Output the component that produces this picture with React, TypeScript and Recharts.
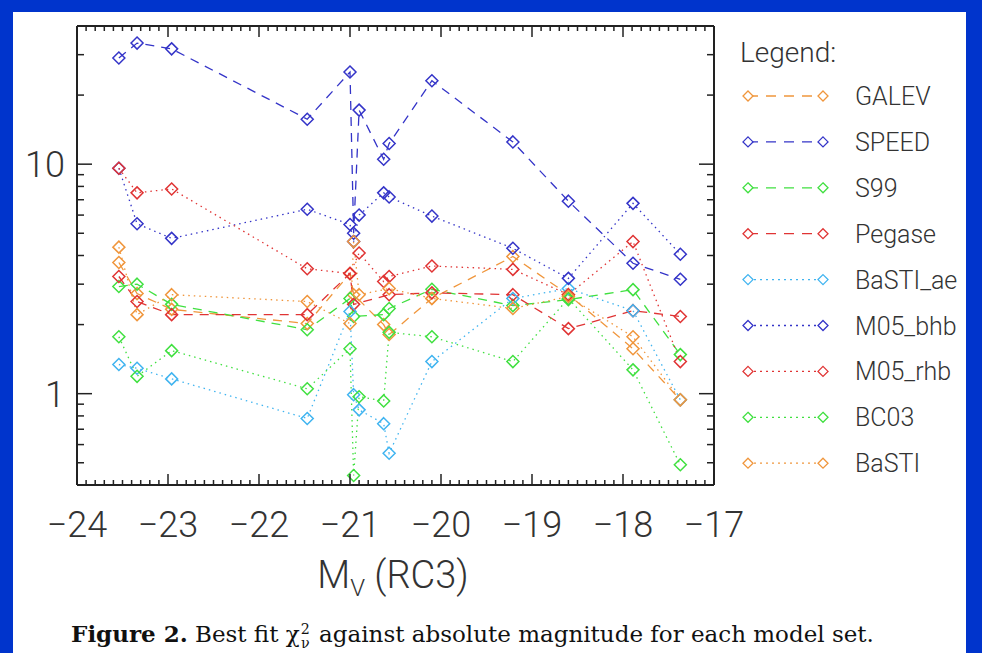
import { LineChart, Line, XAxis, YAxis } from "recharts";

// absolute V magnitude of each galaxy (RC3)
const MAGS = [-23.54, -23.34, -22.96, -21.47, -21.0, -20.96, -20.9, -20.63, -20.57, -20.1, -19.21, -18.6, -17.89, -17.37];

// best fit reduced chi^2 per model set (null = no point)
const GALEV = [3.73, 2.73, 2.33, 2.02, 3.34, 2.7, null, 2.0, 1.81, 2.6, 3.96, 2.7, 1.57, 0.94];
const SPEED = [29.0, 33.7, 31.8, 15.7, 25.2, 5.0, 17.2, 10.5, 12.3, 23.1, 12.5, 6.9, 3.7, 3.15];
const S99 = [2.93, 3.0, 2.45, 1.9, 2.6, 2.17, null, 2.21, 2.35, 2.85, 2.42, 2.57, 2.84, 1.48];
const PEGASE = [3.24, 2.52, 2.21, 2.21, 3.34, 2.45, null, null, 2.7, 2.75, 2.7, 1.92, 2.3, 2.17];
const BASTI_AE = [1.34, 1.29, 1.16, 0.78, 2.28, 0.99, 0.85, 0.74, 0.55, 1.38, 2.6, 2.87, 2.3, 0.94];
const M05_BHB = [9.6, 5.5, 4.75, 6.36, 5.46, 4.6, 6.0, 7.5, 7.2, 5.94, 4.3, 3.18, 6.75, 4.05];
const M05_RHB = [9.6, 7.5, 7.8, 3.5, 3.34, null, 4.1, 3.08, 3.24, 3.6, 3.48, 2.7, 4.6, 1.38];
const BC03 = [1.77, 1.19, 1.54, 1.05, 1.57, 0.44, 0.97, 0.93, 1.85, 1.77, 1.38, 2.6, 1.27, 0.49];
const BASTI = [4.35, 2.21, 2.7, 2.52, 2.02, 4.6, 2.7, null, 2.87, 2.6, 2.35, 2.65, 1.77, 0.94];

const X_LABELS = [-24, -23, -22, -21, -20, -19, -18, -17];
const Y_LABELS = [1, 10];
const Y_TICKS = [0.4, 0.5, 0.6, 0.7, 0.8, 0.9, 1, 2, 3, 4, 5, 6, 7, 8, 9, 10, 20, 30, 40];
const X_TICKS = Array.from({ length: 71 }, (_, i) => Math.round((-24 + i * 0.1) * 10) / 10);

const ORANGE = "#f0963c";
const BLUE = "#3434c8";
const GREEN = "#40e040";
const RED = "#e03434";
const CYAN = "#40b4f0";

const DASH = "9 7";
const DOT = "1.5 4";

const SERIES = [
  { key: "GALEV", values: GALEV, color: ORANGE, dash: DASH },
  { key: "SPEED", values: SPEED, color: BLUE, dash: DASH },
  { key: "S99", values: S99, color: GREEN, dash: DASH },
  { key: "Pegase", values: PEGASE, color: RED, dash: DASH },
  { key: "BaSTI_ae", values: BASTI_AE, color: CYAN, dash: DOT },
  { key: "M05_bhb", values: M05_BHB, color: BLUE, dash: DOT },
  { key: "M05_rhb", values: M05_RHB, color: RED, dash: DOT },
  { key: "BC03", values: BC03, color: GREEN, dash: DOT },
  { key: "BaSTI", values: BASTI, color: ORANGE, dash: DOT },
];

const rows = MAGS.map((mv, i) => {
  const r: any = { mv };
  SERIES.forEach((s) => (r[s.key] = s.values[i]));
  return r;
});

const W = 982;
const H = 653;
// one pixel of each margin is taken by the (thin) axis boxes
const M = { top: 25, left: 76, right: 267, bottom: 167 };
const PLOT_TOP = 26;
const PLOT_BOTTOM = 485;
const PLOT_LEFT = 77;
const PLOT_RIGHT = 714;

const AXIS = "#222";
const FONT = "Roboto, 'Liberation Sans', sans-serif";

const minus = (v: number) => (v < 0 ? "\u2212" + Math.abs(v) : String(v));

const BottomTick = ({ x, payload }: any) => {
  const v = payload.value;
  const major = Math.abs(v - Math.round(v)) < 1e-6;
  const len = major ? 11 : 5;
  return (
    <g>
      <line x1={x} x2={x} y1={PLOT_BOTTOM} y2={PLOT_BOTTOM - len} stroke={AXIS} strokeWidth={1.5} />
      {major && X_LABELS.includes(Math.round(v)) && (
        <text x={x} y={PLOT_BOTTOM + 52} textAnchor="middle" fontSize={36} fontWeight={300} fill="#333" fontFamily={FONT}>
          {minus(Math.round(v))}
        </text>
      )}
    </g>
  );
};

const TopTick = ({ x, payload }: any) => {
  const v = payload.value;
  const major = Math.abs(v - Math.round(v)) < 1e-6;
  const len = major ? 11 : 5;
  return <line x1={x} x2={x} y1={PLOT_TOP} y2={PLOT_TOP + len} stroke={AXIS} strokeWidth={1.5} />;
};

const isMajorY = (v: number) => Math.abs(Math.log10(v) - Math.round(Math.log10(v))) < 1e-6;

const LeftTick = ({ y, payload }: any) => {
  const v = payload.value;
  const major = isMajorY(v);
  const len = major ? 15 : 7;
  return (
    <g>
      <line x1={PLOT_LEFT} x2={PLOT_LEFT + len} y1={y} y2={y} stroke={AXIS} strokeWidth={1.5} />
      {Y_LABELS.includes(v) && (
        <text x={PLOT_LEFT - 12} y={y + 13} textAnchor="end" fontSize={36} fontWeight={300} fill="#333" fontFamily={FONT}>
          {v}
        </text>
      )}
    </g>
  );
};

const RightTick = ({ y, payload }: any) => {
  const v = payload.value;
  const len = isMajorY(v) ? 15 : 7;
  return <line x1={PLOT_RIGHT} x2={PLOT_RIGHT - len} y1={y} y2={y} stroke={AXIS} strokeWidth={1.5} />;
};

const diamond = (color: string, r = 6) => (props: any) => {
  const { cx, cy, index } = props;
  if (cx == null || cy == null || props.value == null) return <g key={index} />;
  return (
    <path
      key={index}
      d={`M${cx} ${cy - r}L${cx + r} ${cy}L${cx} ${cy + r}L${cx - r} ${cy}Z`}
      fill="none"
      stroke={color}
      strokeWidth={1.5}
    />
  );
};

function LegendBox() {
  const y0 = 96;
  const step = 45.9;
  return (
    <g fontFamily={FONT} fontWeight={300} fill="#333">
      <text x={740} y={62} fontSize={28}>
        Legend:
      </text>
      {SERIES.map((s, i) => {
        const y = y0 + i * step;
        const r = 5;
        return (
          <g key={s.key}>
            <line x1={748} x2={823} y1={y} y2={y} stroke={s.color} strokeWidth={1.3} strokeDasharray={s.dash === DASH ? "10 8" : "2 4"} />
            {[748, 823].map((cx) => (
              <path key={cx} d={`M${cx} ${y - r}L${cx + r} ${y}L${cx} ${y + r}L${cx - r} ${y}Z`} fill="#fff" stroke={s.color} strokeWidth={1.3} />
            ))}
            <text x={855} y={y + 9} fontSize={25}>
              {s.key}
            </text>
          </g>
        );
      })}
    </g>
  );
}

export default function App() {
  return (
    <div style={{ position: "absolute", left: 0, top: 0, width: W, height: H, background: "#0034cc", overflow: "hidden" }}>
      <div style={{ position: "absolute", left: 13, top: 12, width: 953, height: 641, background: "#fff" }} />
      <div style={{ position: "absolute", left: 0, top: 0 }}>
        <LineChart width={W} height={H} data={rows} margin={M}>
          <XAxis
            dataKey="mv"
            type="number"
            domain={[-24, -17]}
            ticks={X_TICKS}
            interval={0}
            height={1}
            tick={<BottomTick />}
            tickLine={false}
            axisLine={{ stroke: AXIS, strokeWidth: 2 }}
            allowDataOverflow
          />
          <XAxis
            xAxisId="top"
            orientation="top"
            dataKey="mv"
            type="number"
            domain={[-24, -17]}
            ticks={X_TICKS}
            interval={0}
            height={1}
            tick={<TopTick />}
            tickLine={false}
            axisLine={{ stroke: AXIS, strokeWidth: 2 }}
            allowDataOverflow
          />
          <YAxis
            type="number"
            scale="log"
            domain={[0.4, 40]}
            ticks={Y_TICKS}
            interval={0}
            width={1}
            tick={<LeftTick />}
            tickLine={false}
            axisLine={{ stroke: AXIS, strokeWidth: 2 }}
            allowDataOverflow
          />
          <YAxis
            yAxisId="right"
            orientation="right"
            type="number"
            scale="log"
            domain={[0.4, 40]}
            ticks={Y_TICKS}
            interval={0}
            width={1}
            tick={<RightTick />}
            tickLine={false}
            axisLine={{ stroke: AXIS, strokeWidth: 2 }}
            allowDataOverflow
          />
          {SERIES.map((s) => (
            <Line
              key={s.key}
              dataKey={s.key}
              type="linear"
              stroke={s.color}
              strokeWidth={1.3}
              strokeDasharray={s.dash}
              dot={diamond(s.color)}
              activeDot={false}
              connectNulls
              isAnimationActive={false}
            />
          ))}
        </LineChart>
      </div>
      <svg width={W} height={H} style={{ position: "absolute", left: 0, top: 0, pointerEvents: "none" }}>
        <LegendBox />
        <text x={393} y={588} textAnchor="middle" fontSize={38} fontWeight={300} fill="#333" fontFamily={FONT}>
          M<tspan fontSize={24} dy={8}>V</tspan>
          <tspan dy={-8}> (RC3)</tspan>
        </text>
      </svg>
      <div
        style={{
          position: "absolute",
          left: 0,
          top: 620,
          width: 945,
          textAlign: "center",
          fontFamily: "'DejaVu Serif', serif",
          fontSize: 23,
          color: "#111",
          whiteSpace: "nowrap",
        }}
      >
        <b>Figure 2.</b> Best fit χ
        <span style={{ display: "inline-flex", flexDirection: "column", verticalAlign: "middle", fontSize: "0.62em", lineHeight: 1, margin: "0 2px 0 1px" }}>
          <span>2</span>
          <span>ν</span>
        </span>{" "}
        against absolute magnitude for each model set.
      </div>
    </div>
  );
}
